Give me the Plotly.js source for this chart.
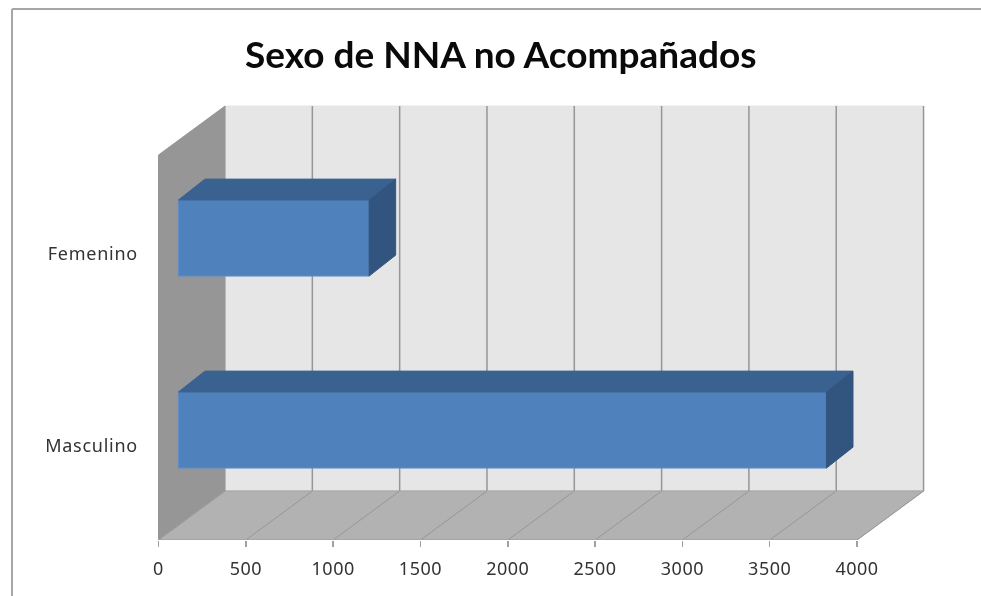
<!DOCTYPE html>
<html>
<head>
<meta charset="utf-8">
<script src="https://cdn.plot.ly/plotly-3.0.1.min.js"></script>
<style>html,body{margin:0;padding:0;background:#fff}#c{width:981px;height:596px;filter:blur(0.5px)}.ytick text{letter-spacing:0.75px}.xtick text{letter-spacing:0.5px}</style>
</head>
<body>
<div id="c"></div>
<script>
const titleText = 'Sexo de NNA no Acompañados';
const categories = ['Masculino', 'Femenino'];
const positions = [0, 1];
const values = [3711, 1092];
const xTicks = [0, 500, 1000, 1500, 2000, 2500, 3000, 3500, 4000];

// Isometric-look offsets, in axis units
const wallDx = 381, wallDy = 0.255;
const barBase = 114, barOffset = -0.115, barWidth = 0.396;
const barDx = 152, barDy = 0.109;
const floorY = -0.4896, wallTop = 1.5156;

const poly = pts => 'M' + pts.map(p => p[0] + ',' + p[1]).join(' L') + ' Z';
const dataShape = (path, fill, line) => ({type: 'path', xref: 'x', yref: 'y', layer: 'below', path,
  fillcolor: fill, line: {color: line || fill, width: 1}});
const seg = (x0, y0, x1, y1, color, width) => ({type: 'line', xref: 'x', yref: 'y', layer: 'below',
  x0, y0, x1, y1, line: {color, width}});

const xEnd = xTicks[xTicks.length - 1];
const shapes = [
  dataShape(poly([[wallDx, floorY + wallDy], [xEnd + wallDx, floorY + wallDy], [xEnd + wallDx, wallTop + wallDy], [wallDx, wallTop + wallDy]]), '#e6e6e6'),
  dataShape(poly([[0, floorY], [wallDx, floorY + wallDy], [wallDx, wallTop + wallDy], [0, wallTop]]), '#969696'),
  dataShape(poly([[0, floorY], [xEnd, floorY], [xEnd + wallDx, floorY + wallDy], [wallDx, floorY + wallDy]]), '#b2b2b2'),
];
xTicks.forEach((t, i) => {
  if (i > 0) shapes.push(seg(t + wallDx, floorY + wallDy, t + wallDx, wallTop + wallDy, '#969696', 1.5));
  shapes.push(seg(t, floorY, t + wallDx, floorY + wallDy, '#969696', 1));
});
shapes.push(seg(0, floorY, xEnd, floorY, '#a0a0a0', 1.5));
shapes.push(seg(wallDx, floorY + wallDy, xEnd + wallDx, floorY + wallDy, '#a8a8a8', 1));
// chart-area frame
const frame = {color: '#a6a6a6', width: 2};
shapes.push({type: 'line', xref: 'paper', yref: 'paper', x0: -0.1769, x1: 1.0654, y0: 1.2068, y1: 1.2068, line: frame});
shapes.push({type: 'line', xref: 'paper', yref: 'paper', x0: -0.1769, x1: -0.1769, y0: 1.2068, y1: -0.1273, line: frame});

const bars = {
  type: 'bar', orientation: 'h', y: positions, x: values, base: barBase,
  offset: barOffset, width: barWidth,
  marker: {color: '#4f81bd', line: {color: '#5f8fc6', width: 1}}, hoverinfo: 'skip'
};
const face = (xs, ys, color) => ({type: 'scatter', mode: 'lines', x: xs, y: ys, fill: 'toself',
  fillcolor: color, line: {color, width: 1}, hoverinfo: 'skip'});
const faces = [];
values.forEach((v, i) => {
  const x0 = barBase, x1 = barBase + v;
  const y0 = positions[i] + barOffset, y1 = y0 + barWidth;
  faces.push(face([x0, x1, x1 + barDx, x0 + barDx, x0], [y1, y1, y1 + barDy, y1 + barDy, y1], '#3a6291'));
  faces.push(face([x1, x1 + barDx, x1 + barDx, x1, x1], [y0, y0 + barDy, y1 + barDy, y1, y0], '#32557f'));
});

const layout = {
  width: 981, height: 596,
  margin: {l: 150, r: 51, t: 100, b: 56, pad: 0},
  paper_bgcolor: '#fff', plot_bgcolor: 'rgba(0,0,0,0)',
  showlegend: false,
  title: {text: '<b>' + titleText + '</b>', x: 0.5105, xanchor: 'center', y: 0.908, yanchor: 'middle',
    font: {family: 'Lato', size: 37, color: '#0a0a0a'}},
  xaxis: {range: [-48.7, 4418], tickvals: xTicks, ticktext: xTicks.map(String), showgrid: false, zeroline: false,
    showline: false, ticks: 'outside', ticklen: 6, tickcolor: '#a0a0a0', tickwidth: 1.5, ticklabelstandoff: 6,
    tickfont: {family: 'Noto Sans', size: 18, color: '#333'}},
  yaxis: {range: [floorY, 1.802], tickvals: positions, ticktext: categories, showgrid: false, zeroline: false,
    showline: false, ticks: '', ticklabelstandoff: 11,
    tickfont: {family: 'Noto Sans', size: 18, color: '#333'}},
  shapes
};
Plotly.newPlot('c', [bars].concat(faces), layout, {displayModeBar: false, staticPlot: true});
</script>
</body>
</html>
